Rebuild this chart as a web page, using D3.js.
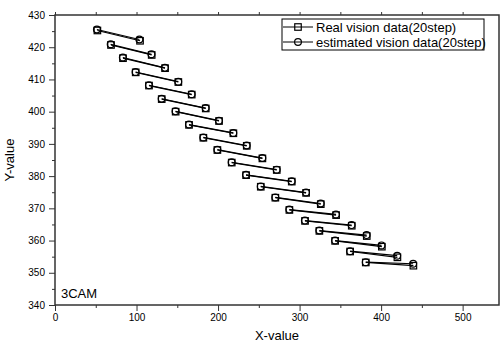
<!DOCTYPE html>
<html>
<head>
<meta charset="utf-8">
<script src="https://cdn.jsdelivr.net/npm/d3@7"></script>
<style>
  body { margin: 0; background: #fff; }
  svg { display: block; font-family: "Liberation Sans", Arial, sans-serif; }
</style>
</head>
<body>
<svg id="chart" width="500" height="343"></svg>
<script>
// 20 steps, each drawn as a short segment from a start point to an end point
const realStartX = [52, 68.7, 83.4, 99, 115.3, 130.9, 148, 164.4, 182, 199.2, 216.8, 234.4, 252.4, 270.3, 287.5, 306.7, 324.3, 343.6, 362, 381.2];
const realStartY = [425.2, 420.7, 416.6, 412.2, 408.1, 403.9, 400, 395.9, 391.9, 388.1, 384.2, 380.3, 376.7, 373.3, 369.5, 366.1, 363, 359.9, 356.6, 353.2];
const realEndX = [104.3, 118.6, 135, 151.3, 167.7, 184.9, 201.2, 218.8, 235.2, 254.4, 272, 290.4, 308, 326, 344.8, 364, 382.4, 400.9, 420, 439.6];
const realEndY = [422, 417.6, 413.5, 409.2, 405.3, 401, 397.1, 393.3, 389.4, 385.5, 381.9, 378.3, 374.8, 371.3, 367.9, 364.6, 361.4, 358.1, 354.8, 352.2];

const estStartX = [51.4, 68.3, 83.2, 98.8, 115.2, 130.8, 147.8, 164.3, 181.9, 199.1, 216.6, 234.3, 252.3, 270.2, 287.4, 306.5, 324.2, 343.5, 361.9, 381.1];
const estStartY = [425.5, 420.9, 416.8, 412.3, 408.2, 404, 400.1, 396, 392, 388.2, 384.3, 380.4, 376.8, 373.4, 369.6, 366.2, 363.1, 360, 356.7, 353.3];
const estEndX = [103.5, 118.3, 134.8, 151.2, 167.6, 184.8, 201.1, 218.7, 235.1, 254.3, 271.9, 290.3, 307.9, 325.9, 344.6, 363.8, 382.2, 400.5, 419.7, 439.3];
const estEndY = [422.4, 417.8, 413.6, 409.3, 405.4, 401.1, 397.2, 393.4, 389.5, 385.6, 382, 378.4, 374.9, 371.5, 368.1, 364.8, 361.7, 358.5, 355.3, 352.8];

const xTicks = [0, 100, 200, 300, 400, 500];
const yTicks = [340, 350, 360, 370, 380, 390, 400, 410, 420, 430];
const seriesNames = ['Real vision data(20step)', 'estimated vision data(20step)'];

const svg = d3.select('#chart');
const L = 55, R = 499, T = 15, B = 305;

const x = d3.scaleLinear().domain([0, 544.6]).range([L, R]);
const y = d3.scaleLinear().domain([340, 430]).range([B, T]);

// bottom axis: majors every 100, minors every 50
const gx = svg.append('g').attr('transform', `translate(0,${B})`);
gx.call(d3.axisBottom(x).tickValues(d3.range(50, 545, 100)).tickSize(3).tickFormat(''));
gx.call(g => g.append('g').call(d3.axisBottom(x).tickValues(xTicks).tickSize(6).tickPadding(3)));

// left axis: majors every 10, minors every 5
const gy = svg.append('g').attr('transform', `translate(${L},0)`);
gy.call(d3.axisLeft(y).tickValues(d3.range(345, 430, 10)).tickSize(3).tickFormat(''));
gy.call(g => g.append('g').call(d3.axisLeft(y).tickValues(yTicks).tickSize(6).tickPadding(4)));

// top axis: short outward ticks every 50
svg.append('g').attr('transform', `translate(0,${T})`)
  .call(d3.axisTop(x).tickValues(d3.range(0, 545, 50)).tickSize(3).tickFormat(''));

svg.selectAll('.domain').remove();
svg.selectAll('.tick line').attr('stroke', '#333').attr('stroke-width', 1);
svg.selectAll('.tick text').attr('font-size', 10).attr('fill', '#000')
  .attr('font-family', '"Liberation Sans", Arial, sans-serif');

// frame
svg.append('rect')
  .attr('x', L).attr('y', T).attr('width', R - L).attr('height', B - T)
  .attr('fill', 'none').attr('stroke', '#333').attr('stroke-width', 1.5);

// axis titles
svg.append('text').attr('x', (L + R) / 2).attr('y', 340)
  .attr('text-anchor', 'middle').attr('font-size', 13).text('X-value');
svg.append('text').attr('transform', `translate(14,${(T + B) / 2}) rotate(-90)`)
  .attr('text-anchor', 'middle').attr('font-size', 13).text('Y-value');
svg.append('text').attr('x', 61).attr('y', 298).attr('font-size', 13).text('3CAM');

function buildSegments(sx, sy, ex, ey) {
  return sx.map((d, i) => [[d, sy[i]], [ex[i], ey[i]]]);
}
const realSegs = buildSegments(realStartX, realStartY, realEndX, realEndY);
const estSegs = buildSegments(estStartX, estStartY, estEndX, estEndY);

const line = d3.line().x(d => x(d[0])).y(d => y(d[1]));
const plot = svg.append('g');

function drawSeries(segs) {
  plot.append('g').selectAll('path').data(segs).join('path')
    .attr('d', line).attr('fill', 'none').attr('stroke', '#000').attr('stroke-width', 1.2);
}
drawSeries(realSegs);
drawSeries(estSegs);

const sq = 6.5, cr = 3.4;
function drawSquares(g, pts) {
  g.selectAll('rect').data(pts).join('rect')
    .attr('x', d => x(d[0]) - sq / 2).attr('y', d => y(d[1]) - sq / 2)
    .attr('width', sq).attr('height', sq)
    .attr('fill', 'none').attr('stroke', '#000').attr('stroke-width', 1.2);
}
function drawCircles(g, pts) {
  g.selectAll('circle').data(pts).join('circle')
    .attr('cx', d => x(d[0])).attr('cy', d => y(d[1])).attr('r', cr)
    .attr('fill', 'none').attr('stroke', '#000').attr('stroke-width', 1.2);
}
drawCircles(plot.append('g'), estSegs.flat());
drawSquares(plot.append('g'), realSegs.flat());

// legend
const lg = svg.append('g');
lg.append('rect').attr('x', 282).attr('y', 19).attr('width', 202).attr('height', 31)
  .attr('fill', '#fff').attr('stroke', '#000').attr('stroke-width', 1);
seriesNames.forEach((name, i) => {
  const ly = 27 + i * 15;
  lg.append('line').attr('x1', 283).attr('x2', 313).attr('y1', ly).attr('y2', ly)
    .attr('stroke', '#000').attr('stroke-width', 1);
  if (i === 0) drawSquares(lg.append('g'), [[x.invert(298), y.invert(ly)]]);
  else drawCircles(lg.append('g'), [[x.invert(298), y.invert(ly)]]);
  lg.append('text').attr('x', 316).attr('y', ly + 4.5).attr('font-size', 13).text(name);
});
</script>
</body>
</html>
